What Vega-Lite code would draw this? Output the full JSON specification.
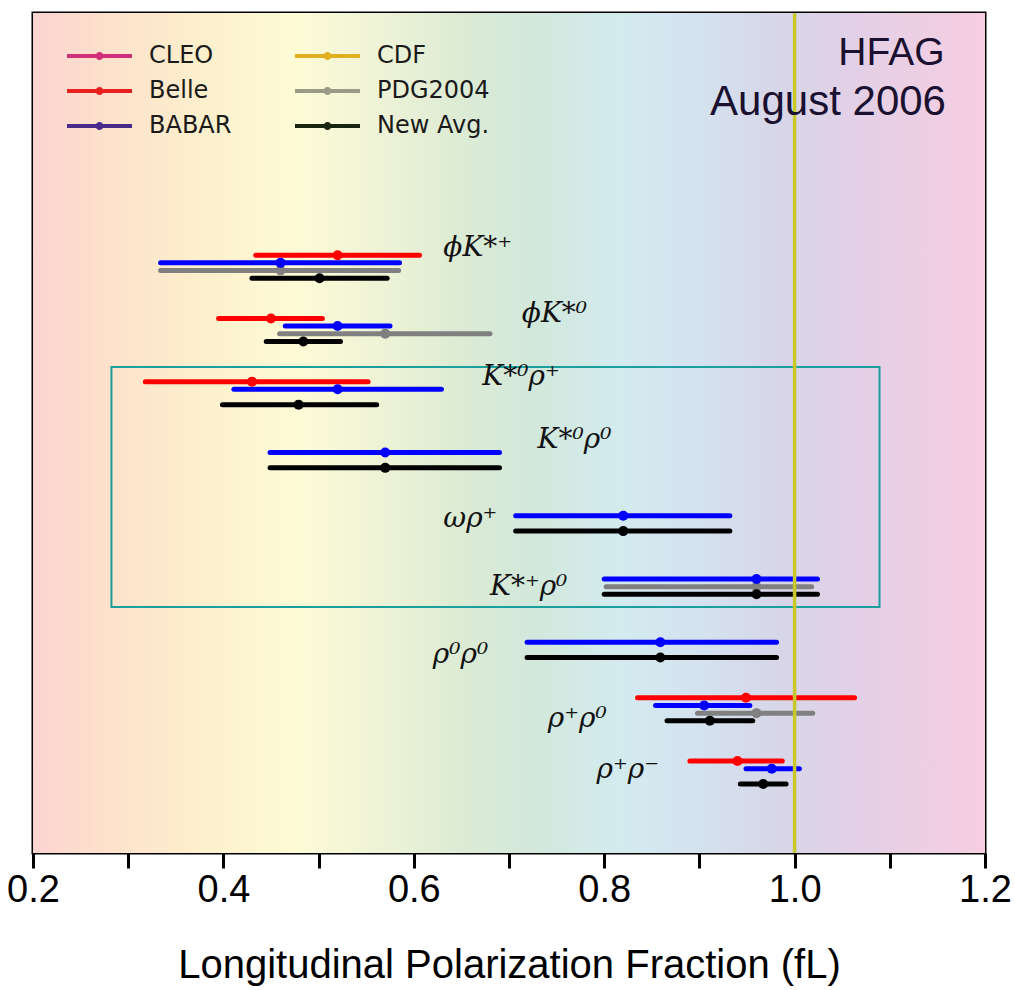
{
  "$schema": "https://vega.github.io/schema/vega-lite/v6.json",
  "width": 952,
  "height": 840,
  "autosize": {"type": "none"},
  "padding": {"left": 33, "top": 13, "right": 30, "bottom": 137},
  "config": {
    "view": {"stroke": "#000000", "strokeWidth": 3},
    "font": "Liberation Sans"
  },
  "datasets": {
    "bars": [
      {"decay": "phiK*+", "exp": "PDG2004", "row": 2, "lo": 0.334, "c": 0.46, "hi": 0.584},
      {"decay": "phiK*+", "exp": "Belle", "row": 0, "lo": 0.434, "c": 0.52, "hi": 0.606},
      {"decay": "phiK*+", "exp": "BABAR", "row": 1, "lo": 0.334, "c": 0.46, "hi": 0.585},
      {"decay": "phiK*+", "exp": "New Avg.", "row": 3, "lo": 0.43, "c": 0.501, "hi": 0.572},
      {"decay": "phiK*0", "exp": "PDG2004", "row": 10.25, "lo": 0.459, "c": 0.57, "hi": 0.68},
      {"decay": "phiK*0", "exp": "Belle", "row": 8.25, "lo": 0.395, "c": 0.45, "hi": 0.504},
      {"decay": "phiK*0", "exp": "BABAR", "row": 9.25, "lo": 0.465, "c": 0.52, "hi": 0.575},
      {"decay": "phiK*0", "exp": "New Avg.", "row": 11.25, "lo": 0.445, "c": 0.484, "hi": 0.523},
      {"decay": "K*0rho+", "exp": "Belle", "row": 16.5, "lo": 0.318, "c": 0.43, "hi": 0.552},
      {"decay": "K*0rho+", "exp": "BABAR", "row": 17.5, "lo": 0.411, "c": 0.52, "hi": 0.629},
      {"decay": "K*0rho+", "exp": "New Avg.", "row": 19.5, "lo": 0.399, "c": 0.479, "hi": 0.561},
      {"decay": "K*0rho0", "exp": "BABAR", "row": 25.75, "lo": 0.449, "c": 0.57, "hi": 0.69},
      {"decay": "K*0rho0", "exp": "New Avg.", "row": 27.75, "lo": 0.449, "c": 0.57, "hi": 0.69},
      {"decay": "omegarho+", "exp": "BABAR", "row": 34, "lo": 0.707, "c": 0.82, "hi": 0.932},
      {"decay": "omegarho+", "exp": "New Avg.", "row": 36, "lo": 0.707, "c": 0.82, "hi": 0.932},
      {"decay": "K*+rho0", "exp": "PDG2004", "row": 43.25, "lo": 0.802, "c": 0.96, "hi": 1.018},
      {"decay": "K*+rho0", "exp": "BABAR", "row": 42.25, "lo": 0.8, "c": 0.96, "hi": 1.024},
      {"decay": "K*+rho0", "exp": "New Avg.", "row": 44.25, "lo": 0.8, "c": 0.96, "hi": 1.024},
      {"decay": "rho0rho0", "exp": "BABAR", "row": 50.5, "lo": 0.719, "c": 0.859, "hi": 0.981},
      {"decay": "rho0rho0", "exp": "New Avg.", "row": 52.5, "lo": 0.719, "c": 0.859, "hi": 0.981},
      {"decay": "rho+rho0", "exp": "PDG2004", "row": 59.75, "lo": 0.898, "c": 0.96, "hi": 1.019},
      {"decay": "rho+rho0", "exp": "Belle", "row": 57.75, "lo": 0.835, "c": 0.949, "hi": 1.063},
      {"decay": "rho+rho0", "exp": "BABAR", "row": 58.75, "lo": 0.854, "c": 0.905, "hi": 0.953},
      {"decay": "rho+rho0", "exp": "New Avg.", "row": 60.75, "lo": 0.866, "c": 0.911, "hi": 0.956},
      {"decay": "rho+rho-", "exp": "Belle", "row": 66, "lo": 0.89, "c": 0.94, "hi": 0.987},
      {"decay": "rho+rho-", "exp": "BABAR", "row": 67, "lo": 0.949, "c": 0.976, "hi": 1.005},
      {"decay": "rho+rho-", "exp": "New Avg.", "row": 69, "lo": 0.943, "c": 0.967, "hi": 0.991}
    ],
    "labels": [
      {"label": "ϕK*⁺", "lx": 0.631, "ly": 0.11},
      {"label": "ϕK*⁰", "lx": 0.7135, "ly": 8.68},
      {"label": "K*⁰ρ⁺", "lx": 0.672, "ly": 16.94},
      {"label": "K*⁰ρ⁰", "lx": 0.73, "ly": 25.16},
      {"label": "ωρ⁺", "lx": 0.631, "ly": 35.47},
      {"label": "K*⁺ρ⁰", "lx": 0.68, "ly": 44.34},
      {"label": "ρ⁰ρ⁰", "lx": 0.62, "ly": 53.21},
      {"label": "ρ⁺ρ⁰", "lx": 0.7407, "ly": 61.56},
      {"label": "ρ⁺ρ⁻", "lx": 0.792, "ly": 68.22}
    ],
    "legendItems": [
      {"source": "CLEO"},
      {"source": "Belle"},
      {"source": "BABAR"},
      {"source": "CDF"},
      {"source": "PDG2004"},
      {"source": "New Avg."}
    ]
  },
  "layer": [
    {
      "data": {"values": [{}]},
      "mark": {
        "type": "rect",
        "fill": {
          "gradient": "linear", "x1": 0, "x2": 1, "y1": 0, "y2": 0,
          "stops": [
            {"offset": 0, "color": "#fcd3d0"},
            {"offset": 0.07, "color": "#fde0cc"},
            {"offset": 0.18, "color": "#fdf0cc"},
            {"offset": 0.28, "color": "#fdfbd6"},
            {"offset": 0.365, "color": "#eef3d6"},
            {"offset": 0.45, "color": "#dcebd4"},
            {"offset": 0.53, "color": "#d2e8dc"},
            {"offset": 0.615, "color": "#d3ebef"},
            {"offset": 0.7, "color": "#d4e2ef"},
            {"offset": 0.785, "color": "#d7d6e8"},
            {"offset": 0.86, "color": "#e2d0e6"},
            {"offset": 1, "color": "#f7cde2"}
          ]
        }
      },
      "encoding": {
        "x": {
          "datum": 0.2,
          "type": "quantitative",
          "scale": {"domain": [0.2, 1.2], "nice": false, "zero": false},
          "axis": {
            "values": [0.2, 0.3, 0.4, 0.5, 0.6, 0.7, 0.8, 0.9, 1.0, 1.1, 1.2],
            "labelExpr": "round(datum.value * 10) % 2 == 0 ? format(datum.value, '.1f') : ''",
            "domain": false,
            "grid": false,
            "tickSize": 15,
            "tickWidth": 3,
            "tickColor": "#000000",
            "labelFont": "Liberation Sans",
            "labelFontSize": 38,
            "labelColor": "#000000",
            "labelPadding": 3,
            "labelOverlap": false,
            "labelFlush": false,
            "labelBound": false,
            "title": "Longitudinal Polarization Fraction (fL)",
            "titleFont": "Liberation Sans",
            "titleFontSize": 40,
            "titleFontWeight": "normal",
            "titleColor": "#000000",
            "titlePadding": 36
          }
        },
        "x2": {"datum": 1.2}
      }
    },
    {
      "data": {"values": [{}]},
      "mark": {"type": "rect", "fillOpacity": 0, "stroke": "#1a9e9e", "strokeWidth": 2},
      "encoding": {
        "x": {"datum": 0.2824, "type": "quantitative"},
        "x2": {"datum": 1.0892},
        "y": {"datum": 14.59, "type": "quantitative", "scale": {"domain": [-31.6, 78], "reverse": true, "nice": false, "zero": false}, "axis": null},
        "y2": {"datum": 45.9}
      }
    },
    {
      "data": {"name": "bars"},
      "mark": {"type": "rule", "strokeWidth": 5, "strokeCap": "round"},
      "encoding": {
        "x": {"field": "lo", "type": "quantitative"},
        "x2": {"field": "hi"},
        "y": {"field": "row", "type": "quantitative"},
        "color": {
          "field": "exp", "type": "nominal",
          "scale": {"domain": ["Belle", "BABAR", "PDG2004", "New Avg."], "range": ["#ff0000", "#0000ff", "#808080", "#000000"]},
          "legend": null
        }
      }
    },
    {
      "data": {"name": "bars"},
      "mark": {"type": "point", "filled": true, "size": 100, "opacity": 1},
      "encoding": {
        "x": {"field": "c", "type": "quantitative"},
        "y": {"field": "row", "type": "quantitative"},
        "color": {
          "field": "exp", "type": "nominal",
          "scale": {"domain": ["Belle", "BABAR", "PDG2004", "New Avg."], "range": ["#ff0000", "#0000ff", "#808080", "#000000"]},
          "legend": null
        }
      }
    },
    {
      "data": {"values": [{}]},
      "mark": {"type": "rule", "color": "#c8c82c", "strokeWidth": 3.5},
      "encoding": {"x": {"datum": 1.0, "type": "quantitative"}}
    },
    {
      "data": {"name": "labels"},
      "mark": {"type": "text", "font": "DejaVu Serif", "fontStyle": "italic", "fontSize": 28, "align": "left", "baseline": "alphabetic", "color": "#111111"},
      "encoding": {
        "x": {"field": "lx", "type": "quantitative"},
        "y": {"field": "ly", "type": "quantitative"},
        "text": {"field": "label"}
      }
    },
    {
      "data": {"values": [{}]},
      "mark": {"type": "text", "font": "Liberation Sans", "fontSize": 39, "align": "right", "baseline": "alphabetic", "color": "#1a1030"},
      "encoding": {
        "x": {"datum": 1.1575, "type": "quantitative"},
        "y": {"datum": -24.8, "type": "quantitative"},
        "text": {"value": "HFAG"}
      }
    },
    {
      "data": {"values": [{}]},
      "mark": {"type": "text", "font": "Liberation Sans", "fontSize": 42, "align": "right", "baseline": "alphabetic", "color": "#1a1030"},
      "encoding": {
        "x": {"datum": 1.159, "type": "quantitative"},
        "y": {"datum": -18.3, "type": "quantitative"},
        "text": {"value": "August 2006"}
      }
    },
    {
      "data": {"name": "legendItems"},
      "mark": {"type": "point", "filled": true, "clip": true},
      "encoding": {
        "x": {"datum": 0.0, "type": "quantitative"},
        "y": {"datum": 0, "type": "quantitative"},
        "color": {
          "field": "source", "type": "nominal",
          "scale": {
            "domain": ["CLEO", "Belle", "BABAR", "CDF", "PDG2004", "New Avg."],
            "range": ["#d0307a", "#e82020", "#4a2a88", "#e0b020", "#9a9a88", "#1a2510"]
          },
          "legend": {
            "orient": "none",
            "legendX": 54.5,
            "legendY": 31,
            "columns": 2,
            "title": null,
            "symbolType": "M-3.25,-0.2H3.25V0.2H-3.25Z M-0.4,0A0.4,0.4 0 1,1 0.4,0A0.4,0.4 0 1,1 -0.4,0Z",
            "symbolSize": 400,
            "symbolStrokeWidth": 0,
            "symbolOpacity": 1,
            "labelFont": "DejaVu Sans",
            "labelFontSize": 24,
            "labelColor": "#1a1a1a",
            "labelOffset": 37.5,
            "labelLimit": 300,
            "rowPadding": 11,
            "columnPadding": 63,
            "padding": 0
          }
        }
      }
    }
  ],
  "resolve": {"scale": {"color": "independent"}}
}
